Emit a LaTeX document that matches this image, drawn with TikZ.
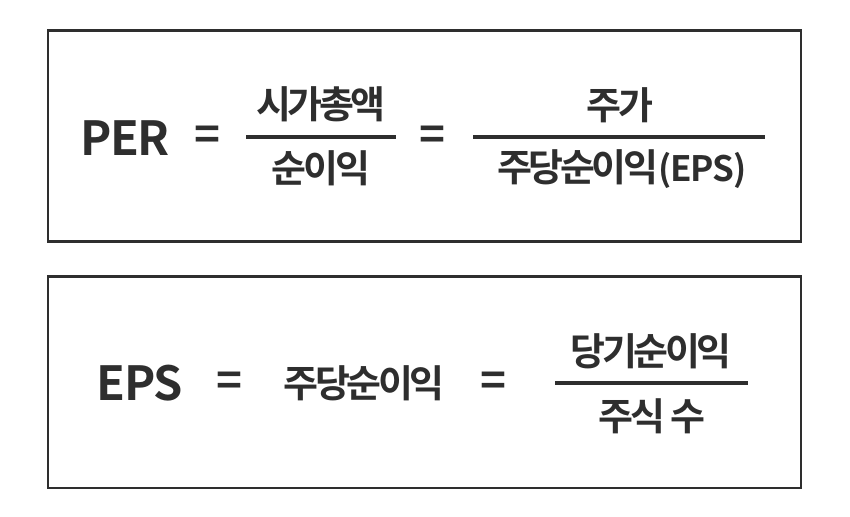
\documentclass[tikz,border=0pt]{standalone}
\usepackage{fontspec}
\setmainfont{Noto Sans CJK KR}[BoldFont={Noto Sans CJK KR Bold}]
\newfontfamily\krtight{Noto Sans CJK KR Bold}[LetterSpace=-9]
\newfontfamily\lattight{Noto Sans CJK KR Bold}[LetterSpace=-3]
\definecolor{ink}{HTML}{2E2E2E}
\begin{document}
\begin{tikzpicture}[x=1pt,y=-1pt,
  frame/.style={draw=ink,line width=2.6pt},
  big/.style={text=ink,font=\fontsize{47}{48}\selectfont\lattight,inner sep=0pt,anchor=center},
  kr/.style={text=ink,font=\fontsize{38}{39}\selectfont\krtight,inner sep=0pt,anchor=center},
  eq/.style={text=ink,font=\fontsize{44}{45}\selectfont\bfseries,inner sep=0pt,anchor=center},
  bar/.style={draw=ink,line width=3.4pt}]
\useasboundingbox (0,0) rectangle (850,516);
\fill[white] (0,0) rectangle (850,516);
% top box
\draw[frame] (48,30.5) rectangle (801,241.5);
\node[big] (per) at (125,138) {PER};
\node[eq] (eq1) at (207,138) {=};
\coordinate (b1l) at (246,137);
\coordinate (b1r) at (396,137);
\draw[bar] (b1l) -- (b1r);
\node[kr] (n1) at (321,104) {시가총액};
\node[kr] (d1) at (321,168) {순이익};
\node[eq] (eq2) at (432,138) {=};
\coordinate (b2l) at (473,137);
\coordinate (b2r) at (765,137);
\draw[bar] (b2l) -- (b2r);
\node[kr] (n2) at (620,105) {주가};
\node[kr] (d2) at (622,169) {주당순이익{\fontsize{35}{36}\selectfont\lattight(EPS)}};
% bottom box
\draw[frame] (48,276.5) rectangle (801,488);
\node[big] (eps) at (140,383) {EPS};
\node[eq] (eq3) at (229,384) {=};
\node[kr] (ju) at (364,383) {주당순이익};
\node[eq] (eq4) at (493,384) {=};
\coordinate (b3l) at (555,383);
\coordinate (b3r) at (748,383);
\draw[bar] (b3l) -- (b3r);
\node[kr] (n3) at (651,351) {당기순이익};
\node[kr] (d3) at (652,416) {주식 수};
\end{tikzpicture}
\end{document}
